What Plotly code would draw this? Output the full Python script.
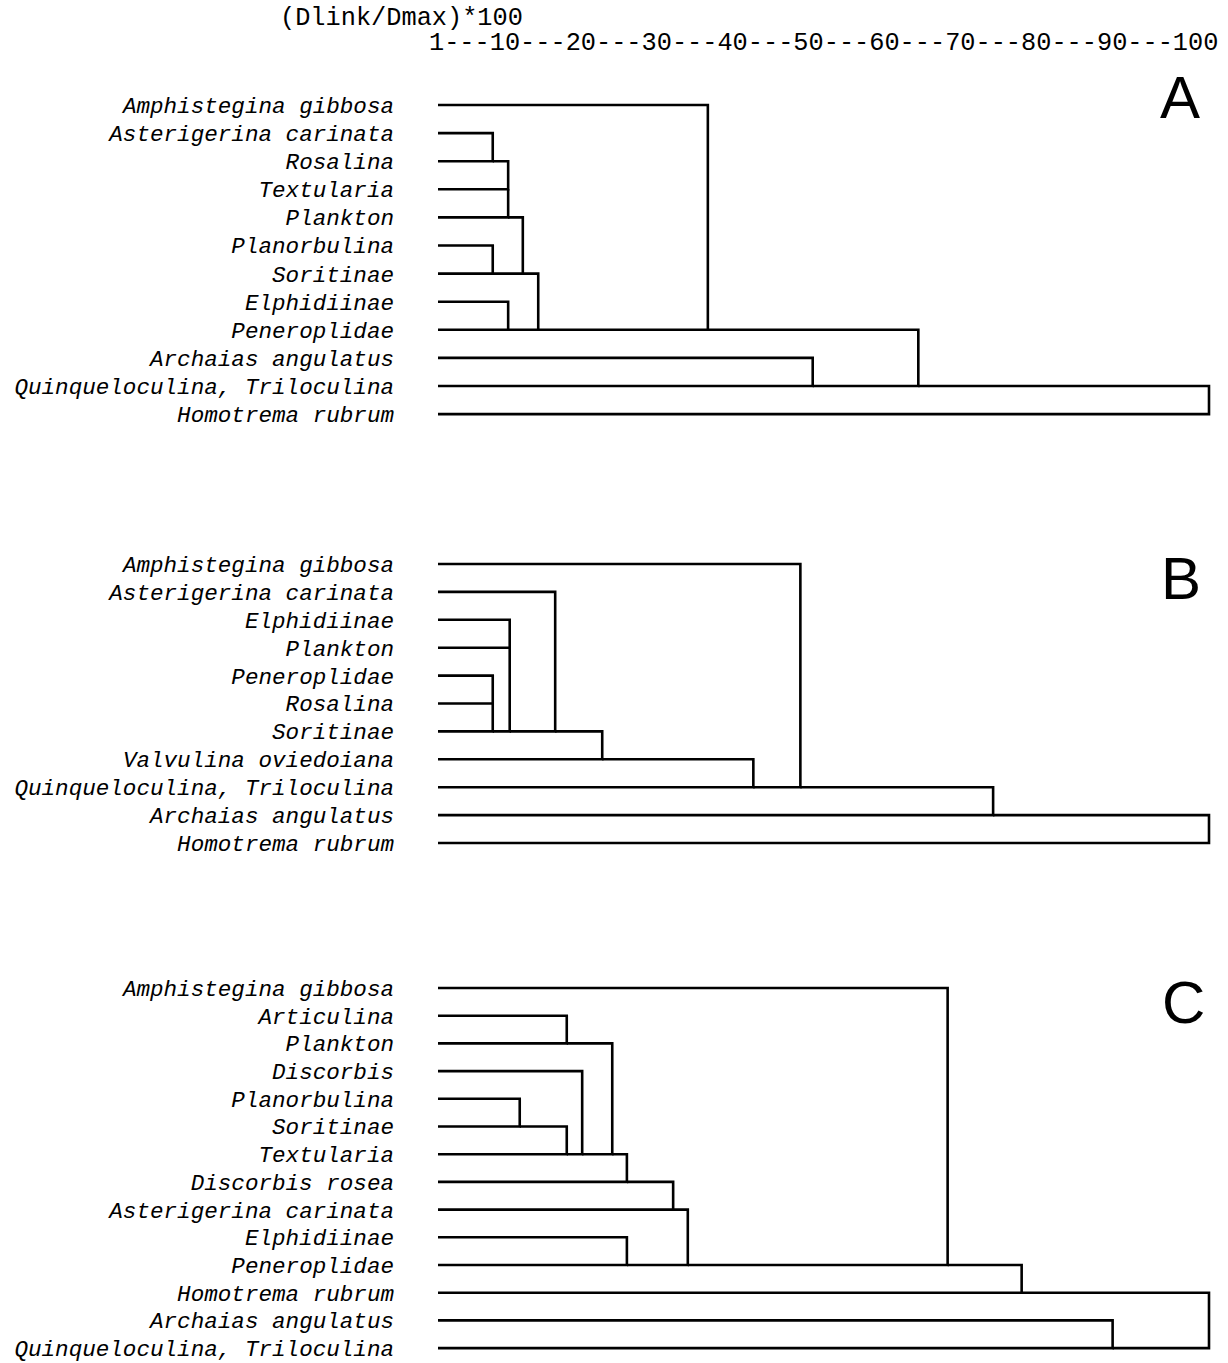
import plotly.graph_objects as go

# ---------------- data ----------------
scale_title = "(Dlink/Dmax)*100"
scale_ticks = "1---10---20---30---40---50---60---70---80---90---100"
panel_letters = ["A", "B", "C"]

leaves_A = ["Amphistegina gibbosa", "Asterigerina carinata", "Rosalina", "Textularia",
            "Plankton", "Planorbulina", "Soritinae", "Elphidiinae", "Peneroplidae",
            "Archaias angulatus", "Quinqueloculina, Triloculina", "Homotrema rubrum"]
join_upper_A = ["Asterigerina carinata", "Rosalina", "Textularia", "Planorbulina", "Plankton",
                "Elphidiinae", "Soritinae", "Amphistegina gibbosa", "Archaias angulatus",
                "Peneroplidae", "Quinqueloculina, Triloculina"]
join_lower_A = ["Rosalina", "Textularia", "Plankton", "Soritinae", "Soritinae",
                "Peneroplidae", "Peneroplidae", "Peneroplidae", "Quinqueloculina, Triloculina",
                "Quinqueloculina, Triloculina", "Homotrema rubrum"]
join_dist_A = [7.1, 9.1, 9.1, 7.1, 11.0, 9.1, 13.0, 35.0, 48.6, 62.3, 100.0]

leaves_B = ["Amphistegina gibbosa", "Asterigerina carinata", "Elphidiinae", "Plankton",
            "Peneroplidae", "Rosalina", "Soritinae", "Valvulina oviedoiana",
            "Quinqueloculina, Triloculina", "Archaias angulatus", "Homotrema rubrum"]
join_upper_B = ["Peneroplidae", "Rosalina", "Elphidiinae", "Plankton", "Asterigerina carinata",
                "Soritinae", "Valvulina oviedoiana", "Amphistegina gibbosa",
                "Quinqueloculina, Triloculina", "Archaias angulatus"]
join_lower_B = ["Rosalina", "Soritinae", "Plankton", "Soritinae", "Soritinae",
                "Valvulina oviedoiana", "Quinqueloculina, Triloculina",
                "Quinqueloculina, Triloculina", "Archaias angulatus", "Homotrema rubrum"]
join_dist_B = [7.1, 7.1, 9.3, 9.3, 15.2, 21.3, 40.9, 47.0, 72.0, 100.0]

leaves_C = ["Amphistegina gibbosa", "Articulina", "Plankton", "Discorbis", "Planorbulina",
            "Soritinae", "Textularia", "Discorbis rosea", "Asterigerina carinata",
            "Elphidiinae", "Peneroplidae", "Homotrema rubrum", "Archaias angulatus",
            "Quinqueloculina, Triloculina"]
join_upper_C = ["Articulina", "Planorbulina", "Soritinae", "Discorbis", "Plankton",
                "Textularia", "Discorbis rosea", "Elphidiinae", "Asterigerina carinata",
                "Amphistegina gibbosa", "Peneroplidae", "Archaias angulatus", "Homotrema rubrum"]
join_lower_C = ["Plankton", "Soritinae", "Textularia", "Textularia", "Textularia",
                "Discorbis rosea", "Asterigerina carinata", "Peneroplidae", "Peneroplidae",
                "Peneroplidae", "Homotrema rubrum", "Quinqueloculina, Triloculina",
                "Quinqueloculina, Triloculina"]
join_dist_C = [16.7, 10.6, 16.7, 18.7, 22.6, 24.5, 30.5, 24.5, 32.4, 66.1, 75.7, 87.5, 100.0]

panels = [
    (leaves_A, join_upper_A, join_lower_A, join_dist_A),
    (leaves_B, join_upper_B, join_lower_B, join_dist_B),
    (leaves_C, join_upper_C, join_lower_C, join_dist_C),
]

# ---------------- layout geometry (pixels) ----------------
W, H = 1228, 1363
X0_PX, X100_PX = 438.0, 1209.0            # where 0 and 100 fall
XMIN, XMAX = -2.0, 102.0
ppu = (X100_PX - X0_PX) / 100.0
xdom = [(X0_PX + XMIN * ppu) / W, (X0_PX + XMAX * ppu) / W]
row0_px = [105.0, 564.0, 988.0]
row_step_px = [28.1, 27.9, 27.7]
ROW_PAD = 0.3
letter_pos_px = [(1180, 98), (1181, 578), (1183, 1002)]

fig = go.Figure()
LABEL_FONT = dict(family="Liberation Mono, Courier New, monospace", size=22.6,
                  color="black", style="italic")

for k, (leaves, up, lo, dist) in enumerate(panels):
    n = len(leaves)
    row = {name: i for i, name in enumerate(leaves)}
    cur = {name: 0.0 for name in leaves}
    xs, ys = [], []
    for u, l, d in zip(up, lo, dist):
        xs += [cur[u], d, d, cur[l], None]
        ys += [row[u], row[u], row[l], row[l], None]
        cur[l] = d
    ax = "" if k == 0 else str(k + 1)
    fig.add_trace(go.Scatter(x=xs, y=ys, mode="lines", xaxis="x" + ax, yaxis="y" + ax,
                             line=dict(color="black", width=2.6), hoverinfo="skip",
                             showlegend=False))
    top = row0_px[k] - ROW_PAD * row_step_px[k]
    bot = row0_px[k] + (n - 1 + ROW_PAD) * row_step_px[k]
    ydom = [max(0.0, 1 - bot / H), min(1.0, 1 - top / H)]
    fig.update_layout(**{
        "xaxis" + ax: dict(domain=xdom, range=[XMIN, XMAX], visible=False,
                           anchor="y" + ax, fixedrange=True, automargin=False),
        "yaxis" + ax: dict(domain=ydom, range=[n - 1 + ROW_PAD, -ROW_PAD], anchor="x" + ax,
                           tickvals=list(range(n)), ticktext=leaves,
                           ticks="outside", ticklen=23, tickcolor="rgba(0,0,0,0)",
                           showgrid=False, zeroline=False, showline=False,
                           ticklabeloverflow="allow",
                           tickfont=LABEL_FONT, fixedrange=True, automargin=False),
    })
    lx, ly = letter_pos_px[k]
    fig.add_annotation(text=panel_letters[k], x=lx / W, y=1 - ly / H, xref="paper",
                       yref="paper", xanchor="center", yanchor="middle", showarrow=False,
                       font=dict(family="Liberation Sans, Arial, sans-serif",
                                 size=60, color="black"))

HEAD_FONT = dict(family="Liberation Mono, Courier New, monospace", size=25.3, color="black")
fig.add_annotation(text=scale_title, x=278 / W, y=1 - 18 / H, xref="paper", yref="paper",
                   xanchor="left", yanchor="middle", showarrow=False, font=HEAD_FONT)
fig.add_annotation(text=scale_ticks, x=427 / W, y=1 - 44 / H, xref="paper", yref="paper",
                   xanchor="left", yanchor="middle", showarrow=False, font=HEAD_FONT)

fig.update_layout(width=W, height=H, margin=dict(l=0, r=0, t=0, b=0, pad=0),
                  paper_bgcolor="white", plot_bgcolor="white")
fig.write_html("out.html", config={"displayModeBar": False},
               post_script="document.body.style.margin='0';document.body.style.overflow='hidden';")
